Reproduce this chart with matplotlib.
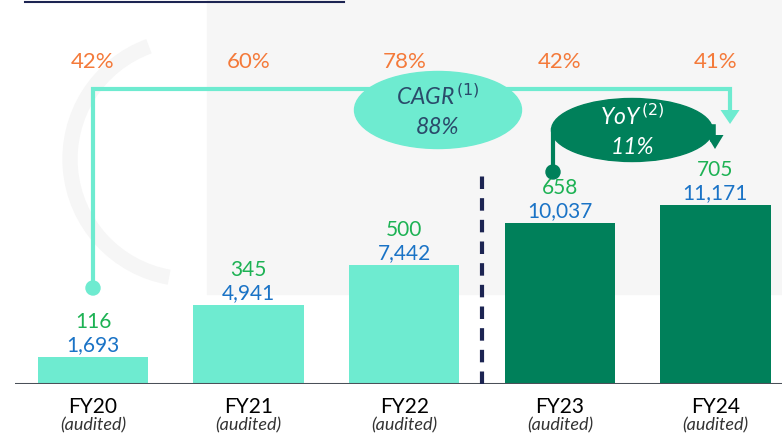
import matplotlib
matplotlib.use('Agg')
import matplotlib.pyplot as plt
from matplotlib.patches import Ellipse, Rectangle, Arc, FancyArrow
import numpy as np

plt.rcParams['font.family'] = ['Lato', 'DejaVu Sans']

years = ["FY20", "FY21", "FY22", "FY23", "FY24"]
sub_label = "(audited)"
revenue = [1693, 4941, 7442, 10037, 11171]
second_metric = [116, 345, 500, 658, 705]
growth = ["42%", "60%", "78%", "42%", "41%"]
cagr_text = "88%"
yoy_text = "11%"

light = "#6eebd0"
dark = "#00805a"
bar_colors = [light, light, light, dark, dark]

# px scale helpers (figure is 782x435, baseline at 385px)
PX_X = 155.6
PX_Y = 62.4

fig = plt.figure(figsize=(7.82, 4.35), dpi=100)
# background decoration
bg = fig.add_axes([0, 0, 1, 1])
bg.set_xlim(0, 782)
bg.set_ylim(435, 0)
bg.axis('off')
bg.add_patch(Rectangle((207, 0), 575, 295, color="#f6f6f6", zorder=0))
bg.add_patch(Arc((190, 160), 240, 240, theta1=100, theta2=250, ec="#f6f6f6", lw=11, zorder=0))
bg.plot([25, 344], [3, 3], color="#1c2452", lw=1.5)

ax = fig.add_axes([15 / 782, 50 / 435, 767 / 782, 385 / 435])
ax.set_xlim(-78 / PX_X, 689 / PX_X)
ax.set_ylim(0, 385 * PX_Y)
ax.axis('off')
ax.patch.set_alpha(0)

x = np.arange(len(years))
ax.bar(x, revenue, width=0.71, color=bar_colors, zorder=2)
ax.axhline(0, color="#4a5058", lw=2.2, zorder=3)

for i in x:
    ax.annotate(f"{revenue[i]:,}", (i, revenue[i]), xytext=(0, 2), textcoords="offset points",
                ha="center", va="bottom", fontsize=15, color="#1a73c6")
    ax.annotate(f"{second_metric[i]}", (i, revenue[i]), xytext=(0, 18.5), textcoords="offset points",
                ha="center", va="bottom", fontsize=15, color="#1db254")
    ax.text(i, (385 - 62) * PX_Y, growth[i], ha="center", va="center", fontsize=16, color="#f47a3a")
    ax.text(i, -22.5 * PX_Y, years[i], ha="center", va="center", fontsize=15, color="black", clip_on=False)
    ax.text(i, -40.5 * PX_Y, sub_label, ha="center", va="center", fontsize=13, style="italic",
            color="#333333", clip_on=False)

# separator between periods
ax.plot([2.5, 2.5], [0, 212 * PX_Y], color="#1c2452", lw=3, ls=(0, (3, 2.2)), zorder=3)

# CAGR connector
top_y = (385 - 90) * PX_Y
end_x = 4.094
ax.plot([0, 0, end_x, end_x], [96 * PX_Y, top_y, top_y, 272 * PX_Y], color=light, lw=3,
        solid_joinstyle="miter", zorder=4)
ax.add_patch(Ellipse((0, 96 * PX_Y), 14 / PX_X, 14 * PX_Y, color=light, zorder=4))
ax.add_patch(FancyArrow(end_x, 272 * PX_Y, 0, -12 * PX_Y, width=0, head_width=19 / PX_X,
                        head_length=14 * PX_Y, length_includes_head=True, color=light, lw=0, zorder=4))
ax.add_patch(Ellipse((345 / PX_X, 274 * PX_Y), 167 / PX_X, 77 * PX_Y, color=light, zorder=5))
ax.text(345 / PX_X, 289 * PX_Y, r"CAGR$^{\,(1)}$", ha="center", va="center", fontsize=16.5,
        style="italic", color="#2a4a6a", zorder=6)
ax.text(345 / PX_X, 258 * PX_Y, cagr_text, ha="center", va="center", fontsize=16.5,
        style="italic", color="#2a4a6a", zorder=6)

# YoY connector
yx0 = 460 / PX_X
ax.plot([yx0, yx0], [212 * PX_Y, 254 * PX_Y], color=dark, lw=3, zorder=4)
ax.add_patch(Ellipse((yx0, 212 * PX_Y), 14 / PX_X, 14 * PX_Y, color=dark, zorder=4))
ax.plot([620 / PX_X, 620 / PX_X], [257 * PX_Y, 245 * PX_Y], color=dark, lw=4, zorder=4)
ax.add_patch(FancyArrow(622 / PX_X, 250 * PX_Y, 0, -15 * PX_Y, width=0, head_width=17 / PX_X,
                        head_length=14 * PX_Y, length_includes_head=True, color=dark, lw=0, zorder=4))
ax.add_patch(Ellipse((539 / PX_X, 254 * PX_Y), 161 / PX_X, 63 * PX_Y, color=dark, zorder=5))
ax.text(539 / PX_X, 269 * PX_Y, r"YoY$^{\,(2)}$", ha="center", va="center", fontsize=16.5,
        style="italic", color="white", zorder=6)
ax.text(539 / PX_X, 238 * PX_Y, yoy_text, ha="center", va="center", fontsize=16.5,
        style="italic", color="white", zorder=6)

fig.savefig("out.png", dpi=100)
